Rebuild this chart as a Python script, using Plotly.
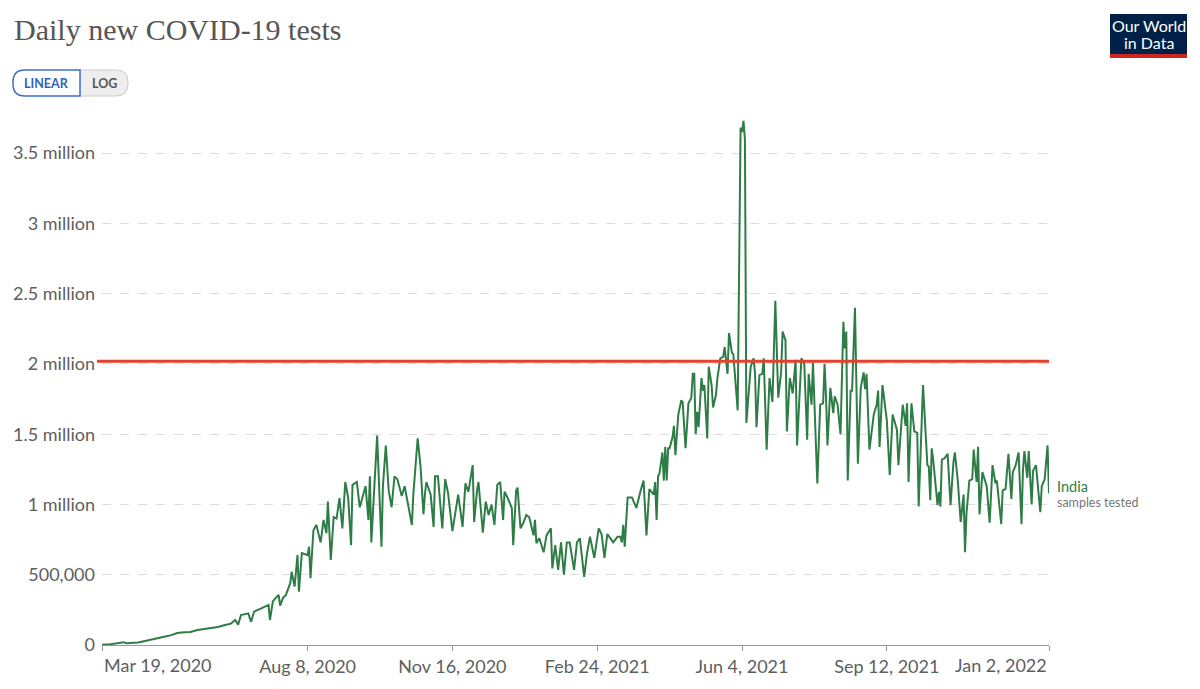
"""
    daily new covid-19 tests, india (owid style)
"""

import pandas as pd
import plotly.graph_objects as go


####~~~~  data

START = "2020-03-19"

# days since Mar 19, 2020
day_offset = [
    0, 6, 15, 17, 25, 32, 39, 43, 48, 52, 57, 61, 66, 73, 80, 85, 89, 92, 94, 96,
    101, 103, 105, 110, 112, 115, 116, 118, 120, 122, 123, 125, 127, 130, 131, 133, 135, 136, 138,
    142, 143, 144, 146, 148, 151, 153, 155, 156, 158, 160, 162, 164, 166, 168, 170, 172, 173,
    176, 178, 182, 184, 185, 186, 187, 190, 193, 194, 196, 198, 200, 202, 204, 207, 209,
    214, 215, 218, 220, 222, 223, 224, 227, 229, 230, 232, 235, 237, 239, 242,
    246, 249, 251, 253, 256, 257, 259, 260, 263, 265, 267, 269, 271, 273, 275, 277, 278,
    280, 283, 284, 286, 287, 289, 291, 293, 295, 298, 299, 300, 302, 305, 307, 310, 311,
    313, 315, 317, 319, 321, 323, 326, 328, 330, 333, 335, 337, 340, 342, 343, 345, 347,
    349, 353, 356, 358, 359, 360, 361, 363, 366, 369, 372, 374, 376, 378, 381, 382, 383,
    384, 385, 387, 388, 389, 390, 391, 392, 394, 395, 396, 398, 400, 401, 403, 405, 407,
    408, 409, 410, 411, 412, 414, 415, 416, 418, 419, 421, 422, 424, 425, 427, 429, 430,
    432, 433, 435, 436, 439, 441, 442, 443, 444, 445, 448, 450, 451, 452,
    454, 456, 457, 459, 461, 463, 465, 467, 469, 470, 472, 473, 475, 477, 479, 480, 482,
    483, 485, 487, 488, 490, 491, 492, 494, 496, 498, 499, 500, 501, 503, 505, 506, 508,
    510, 512, 513, 514, 515, 517, 518, 520, 522, 524, 526, 527, 528, 530, 533, 535, 536,
    537, 539, 542, 544, 546, 549, 550,
    553, 555, 556, 557, 559, 561, 563, 564, 567, 570, 571, 572, 573, 574, 577, 578, 579,
    580, 582, 584, 586, 588, 589, 591, 593, 595, 596, 597, 599, 601, 602, 604, 605, 606,
    608, 611, 613, 615, 617, 618, 621, 622, 624, 626, 628, 629, 631, 633, 635, 636, 637,
    639, 640, 642, 643, 645, 646, 648, 649, 651, 653, 654,
]

# samples tested, thousands
tests_k = [
    1, 6, 20, 12, 18, 36, 50, 59, 70, 85, 90, 92, 107, 117, 128, 142, 152, 178, 145, 213,
    225, 165, 237, 260, 272, 285, 178, 310, 335, 356, 280, 335, 356, 440, 521, 415, 640, 379, 654,
    640, 700, 475, 815, 855, 730, 890, 795, 1020, 605, 910, 900, 1045, 830, 1160, 1050, 710, 1140,
    1160, 980, 1130, 890, 1200, 730, 930, 1490, 700, 1130, 1420, 1100, 980, 1200, 1180, 1060, 1130,
    855, 1070, 1470, 1270, 930, 1070, 1160, 1070, 840, 1200, 1200, 830, 1180, 1080, 810,
    1070, 840, 1150, 1090, 1280, 875, 1100, 1160, 800, 1020, 925, 1000, 855, 1140, 1160, 890, 1090,
    1050, 975, 710, 1100, 1120, 830, 870, 925, 910, 780, 890, 725, 760, 660, 780, 830, 545,
    710, 535, 730, 500, 730, 730, 535, 730, 760, 485, 655, 770, 620, 770, 830, 790, 620,
    790, 730, 770, 770, 730, 855, 700, 1050, 1050, 975, 1100, 1170, 780, 1110, 1070, 1160, 890,
    1200, 1220, 1370, 1170, 1410, 1170, 1400, 1400, 1480, 1560, 1350, 1640, 1740, 1730, 1400, 1720, 1760,
    1930, 1930, 1500, 1660, 1550, 1900, 1810, 1850, 1470, 1980, 1850, 1690, 1780, 1900, 2040, 2050, 2120,
    1930, 2220, 2080, 2070, 1670, 3680, 3650, 3730, 3600, 1580, 1980, 2040, 1930, 1550,
    1920, 1930, 2040, 1390, 1900, 1730, 2450, 1760, 1940, 2230, 2170, 1520, 1900, 1790, 2030, 1420, 1900,
    2040, 2000, 1460, 1930, 1710, 2010, 1710, 1150, 1710, 1720, 2000, 1770, 1420, 1830, 1650, 1770, 1710,
    1500, 2300, 2110, 2230, 1170, 1810, 1810, 2400, 1290, 1830, 1940, 1820, 1930, 1390, 1640, 1710, 1810,
    1410, 1850, 1600, 1210, 1640, 1530, 1280,
    1710, 1560, 1720, 1160, 1720, 1520, 1510, 985, 1850, 1280, 1270, 1030, 1400, 1320, 995, 1090, 985,
    1320, 1330, 1360, 995, 1300, 1370, 1170, 875, 1070, 660, 935, 1170, 1180, 1390, 1160, 1410, 930,
    1230, 1130, 870, 1280, 1150, 1170, 860, 1100, 1110, 1360, 1040, 1230, 1280, 1370, 860, 1240, 1380,
    1190, 1380, 1000, 1240, 1280, 1150, 945, 1130, 1180, 1420, 1080,
]

tick_days = [0, 142, 242, 342, 442, 542, 654]
tick_text = ["Mar 19, 2020", "Aug 8, 2020", "Nov 16, 2020", "Feb 24, 2021",
             "Jun 4, 2021", "Sep 12, 2021", "Jan 2, 2022"]

y_vals = [0, 500000, 1000000, 1500000, 2000000, 2500000, 3000000, 3500000]
y_text = ["0", "500,000", "1 million", "1.5 million", "2 million",
          "2.5 million", "3 million", "3.5 million"]

threshold = 2020000


####~~~~


W, H = 1200, 689
L, R, T, B = 102, 151, 111, 44
PW, PH = W - L - R, H - T - B

GREEN = "#2e7d46"
GREY = "#5e5e5e"
FS = 18


def px(x) :
    return (x - L) / PW


def py(y) :
    return (H - B - y) / PH


def note(text, x, y, size, color, xa="center", family="Lato") :
    return dict(text=text, x=px(x), y=py(y), xref="paper", yref="paper",
                xanchor=xa, yanchor="middle", showarrow=False,
                font=dict(family=family, size=size, color=color))


def main() :
    start = pd.Timestamp(START)
    dates = start + pd.to_timedelta(day_offset, unit="D")
    tests = [v * 1000 for v in tests_k]
    tick_dates = start + pd.to_timedelta(tick_days, unit="D")

    fig = go.Figure()
    fig.add_trace(go.Scatter(
        x=dates, y=tests,
        mode="lines",
        line=dict(color=GREEN, width=2),
        hoverinfo="skip",
        showlegend=False,
    ))

    # middle ticks get labels, the two ends are labelled with anchored notes
    labels = [""] + tick_text[1:-1] + [""]

    fig.update_layout(
        width=W, height=H,
        margin=dict(l=L, r=R, t=T, b=B),
        plot_bgcolor="white",
        paper_bgcolor="white",
        font=dict(family="Lato", color=GREY, size=FS),
        xaxis=dict(
            range=[tick_dates[0], tick_dates[-1]],
            tickvals=list(tick_dates),
            ticktext=labels,
            ticks="outside", ticklen=5, tickcolor="#999",
            showline=True, linecolor="#999", linewidth=1,
            showgrid=False, zeroline=False,
            tickfont=dict(family="Lato", size=FS, color=GREY),
        ),
        yaxis=dict(
            range=[0, 3800000],
            tickvals=y_vals,
            ticktext=y_text,
            showgrid=True, gridcolor="#dddddd", griddash="dash", gridwidth=1,
            zeroline=False, showline=False, ticks="",
            tickfont=dict(family="Lato", size=FS, color=GREY),
            ticklabelstandoff=6,
        ),
    )

    shapes = []
    anns = []

    # red reference line
    shapes.append(dict(type="line", xref="paper", yref="y",
                       x0=px(97), x1=1, y0=threshold, y1=threshold,
                       line=dict(color="#e4402b", width=3)))

    # LINEAR / LOG toggle
    def rpath(x0, y0, x1, y1, rl, rr) :
        a, b, c, d = px(x0), px(x1), py(y0), py(y1)
        rx_l, rx_r = rl / PW, rr / PW
        ry_l, ry_r = rl / PH, rr / PH
        return (f"M{a+rx_l},{c} L{b-rx_r},{c} Q{b},{c} {b},{c-ry_r} "
                f"L{b},{d+ry_r} Q{b},{d} {b-rx_r},{d} L{a+rx_l},{d} "
                f"Q{a},{d} {a},{d+ry_l} L{a},{c-ry_l} Q{a},{c} {a+rx_l},{c} Z")

    shapes.append(dict(type="path", xref="paper", yref="paper",
                       path=rpath(80, 70, 128, 96, 0, 12),
                       fillcolor="#eeeeee", line=dict(color="#cccccc", width=1)))
    shapes.append(dict(type="path", xref="paper", yref="paper",
                       path=rpath(13, 70, 80, 96, 12, 0),
                       fillcolor="white", line=dict(color="#3a6fc6", width=1.5)))
    anns.append(note("<b>LINEAR</b>", 46.5, 83.5, 12.5, "#2f63bd"))
    anns.append(note("<b>LOG</b>", 104, 83.5, 12.5, "#555555"))

    # title
    anns.append(note("Daily new COVID-19 tests", 12, 30, 30, "#555555",
                     xa="left", family="Liberation Serif"))

    # logo
    shapes.append(dict(type="rect", xref="paper", yref="paper",
                       x0=px(1110), x1=px(1187), y0=py(14), y1=py(54),
                       fillcolor="#002147", line=dict(width=0)))
    shapes.append(dict(type="rect", xref="paper", yref="paper",
                       x0=px(1110), x1=px(1187), y0=py(54), y1=py(58),
                       fillcolor="#ce261e", line=dict(width=0)))
    anns.append(note("Our World", 1148.5, 25, 16, "white"))
    anns.append(note("in Data", 1148.5, 43, 16, "white"))

    # end labels of the x axis
    anns.append(note(tick_text[0], 102, 665, FS, GREY, xa="left"))
    anns.append(note(tick_text[-1], 1049, 665, FS, GREY, xa="right"))

    # series label
    anns.append(note("India", 1055, 486, 14.5, GREEN, xa="left"))
    anns.append(note("samples tested", 1055, 502, 12.5, "#777777", xa="left"))

    fig.update_layout(shapes=shapes, annotations=anns)
    fig.write_html("out.html",
                   config={"displayModeBar": False},
                   post_script="document.body.style.margin='0';document.body.style.padding='0';")


####~~~~


if __name__ == '__main__' :
    main()
